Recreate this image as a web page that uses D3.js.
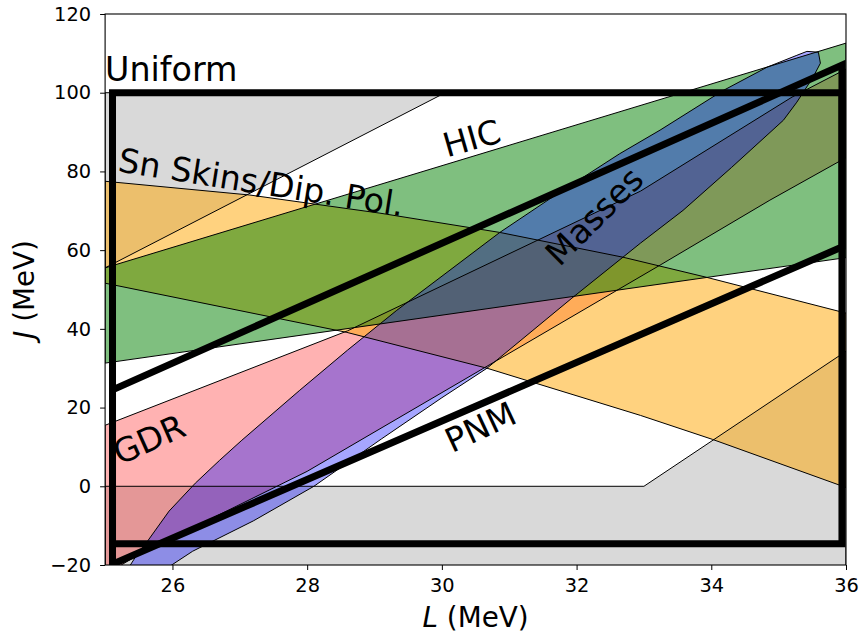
<!DOCTYPE html>
<html>
<head>
<meta charset="utf-8">
<script src="https://cdn.jsdelivr.net/npm/d3@7"></script>
<style>
  body { margin: 0; background: #fff; }
  svg { display: block; }
  text { font-family: "DejaVu Sans", sans-serif; }
</style>
</head>
<body>
<svg id="chart" width="859" height="634"></svg>
<script>
// ---- axis ticks ----
const xTicks = [26, 28, 30, 32, 34, 36];
const yTicks = [-20, 0, 20, 40, 60, 80, 100, 120];

// ---- constraint regions, [L, J] pairs ----
// Uniform-gas excluded regions
const uniformUpper = [[25, 55.5], [30.05, 100], [25, 100]];
const uniformLower = [[25, 0], [33, 0], [36, 34.3], [36, -25], [25, -25]];

// GDR band
const gdrUpper = [[25, 15.5], [28.6, 39.5], [32.95, 75], [35.2, 98.9], [36, 106]];
const gdrLower = [[25, -22.5], [25.5, -17.3], [28, 3.8], [30.67, 30.5], [33.24, 56.2], [34.87, 72.7], [36, 83.5]];

// Sn skins / dipole polarizability band
const snUpper = [[25, 77.5], [27.15, 74.0], [29.08, 69.4], [30.86, 64.5], [32.69, 58.2], [33.93, 53.1], [36, 44]];
const snLower = [[25, 51.6], [28.59, 39.1], [30.67, 30.0], [32.95, 18.0], [34.02, 11.9], [36, -0.3]];

// Heavy-ion collisions band
const hicUpper = [[25, 55.5], [36, 112.6]];
const hicLower = [[25, 31.3], [36, 58.1]];

// Nuclear masses contour
const masses = [
  [25.3, -22], [25.45, -18], [25.64, -13.7], [25.95, -6.3], [26.34, 0.8], [26.7, 6.6],
  [27.03, 11.7], [27.89, 24.4], [28.6, 34.6],
  [29.33, 44.7], [30.86, 64.5], [31.6, 73], [32.64, 84.5], [33.24, 90.5], [34.17, 100.5],
  [34.83, 106.5], [35.27, 109.5], [35.42, 110.5], [35.59, 110.3], [35.62, 107.5],
  [35.51, 103.9], [35.27, 97.6], [35.07, 93], [34.3, 81], [33.58, 70.1], [32.95, 61.8],
  [31.93, 47.8], [30.67, 30], [30.0, 22.5], [29.1, 12], [28.1, 0], [27.2, -8.8],
  [26.3, -16.5], [25.9, -21], [25.6, -22.5]
];

// Pure neutron matter bounds (parallelogram) and uniform-gas box
const pnmBounds = [[25.11, 24.5], [35.94, 107], [35.94, 60.8], [25.11, -19.8]];
const uniformBox = [[25.11, 100], [35.94, 100], [35.94, -14.6], [25.11, -14.6]];

// ---- labels ----
const labels = [
  { text: "Sn Skins/Dip. Pol.", at: [27.32, 77.3], angle: 9 },
  { text: "HIC", at: [30.44, 88.5], angle: -16 },
  { text: "Masses", at: [32.26, 68.7], angle: -45 },
  { text: "GDR", at: [25.65, 12.0], angle: -24 },
  { text: "PNM", at: [30.57, 15.1], angle: -25 }
];

// ---- layout ----
const plot = { left: 105.1, right: 846, top: 14, bottom: 565 };
const x = d3.scaleLinear().domain([25, 36]).range([plot.left, plot.right]);
const y = d3.scaleLinear().domain([-20, 120]).range([plot.bottom, plot.top]);

const svg = d3.select("#chart");
svg.append("defs").append("clipPath").attr("id", "plotClip")
  .append("rect")
  .attr("x", plot.left).attr("y", plot.top)
  .attr("width", plot.right - plot.left).attr("height", plot.bottom - plot.top);

const line = d3.line().x(d => x(d[0])).y(d => y(d[1]));
const band = (upper, lower) => upper.concat(lower.slice().reverse());

const regions = [
  { pts: uniformUpper, fill: "#808080", op: 0.3 },
  { pts: uniformLower, fill: "#808080", op: 0.3 },
  { pts: band(gdrUpper, gdrLower), fill: "#ff0000", op: 0.3 },
  { pts: band(snUpper, snLower), fill: "#ffa500", op: 0.5 },
  { pts: band(hicUpper, hicLower), fill: "#008000", op: 0.5 },
  { pts: masses, fill: "#0000ff", op: 0.35 }
];

const area = svg.append("g").attr("clip-path", "url(#plotClip)");

// fills
area.selectAll("path.fill").data(regions).join("path")
  .attr("class", "fill")
  .attr("d", d => line(d.pts) + "Z")
  .attr("fill", d => d.fill)
  .attr("fill-opacity", d => d.op)
  .attr("stroke", "none");

// outlines
area.selectAll("path.edge").data(regions).join("path")
  .attr("class", "edge")
  .attr("d", d => line(d.pts) + "Z")
  .attr("fill", "none")
  .attr("stroke", "#000")
  .attr("stroke-width", 1);

// thick bounds
[pnmBounds, uniformBox].forEach(pts => {
  area.append("path")
    .attr("d", line(pts) + "Z")
    .attr("fill", "none")
    .attr("stroke", "#000")
    .attr("stroke-width", 7)
    .attr("stroke-linejoin", "miter");
});

// ---- axes ----
const xAxis = d3.axisBottom(x).tickValues(xTicks).tickSize(5).tickPadding(8)
  .tickFormat(d3.format("d"));
const yAxis = d3.axisLeft(y).tickValues(yTicks).tickSize(5).tickPadding(9)
  .tickFormat(d3.format("d"));

const gx = svg.append("g").attr("transform", `translate(0,${plot.bottom})`).call(xAxis);
const gy = svg.append("g").attr("transform", `translate(${plot.left},0)`).call(yAxis);
[gx, gy].forEach(g => {
  g.select(".domain").remove();
  g.selectAll(".tick line").attr("stroke", "#000").attr("stroke-width", 1);
  g.selectAll(".tick text")
    .attr("font-family", "DejaVu Sans")
    .attr("font-size", 19.4)
    .attr("fill", "#000");
});

// frame
svg.append("rect")
  .attr("x", plot.left).attr("y", plot.top)
  .attr("width", plot.right - plot.left).attr("height", plot.bottom - plot.top)
  .attr("fill", "none").attr("stroke", "#000").attr("stroke-width", 1.1);

// axis titles
const xt = svg.append("text")
  .attr("x", (plot.left + plot.right) / 2).attr("y", 627)
  .attr("text-anchor", "middle").attr("font-size", 27.8);
xt.append("tspan").attr("font-style", "italic").text("L");
xt.append("tspan").text(" (MeV)");

const yt = svg.append("text")
  .attr("transform", `translate(34,${(plot.top + plot.bottom) / 2}) rotate(-90)`)
  .attr("text-anchor", "middle").attr("font-size", 27.8);
yt.append("tspan").attr("font-style", "italic").text("J");
yt.append("tspan").text(" (MeV)");

// region annotations
svg.append("text")
  .attr("x", x(25)).attr("y", y(103.1))
  .attr("font-size", 33.3)
  .text("Uniform");

labels.forEach(l => {
  const cx = x(l.at[0]), cy = y(l.at[1]);
  svg.append("text")
    .attr("transform", `translate(${cx},${cy}) rotate(${l.angle})`)
    .attr("text-anchor", "middle")
    .attr("dy", "0.36em")
    .attr("font-size", 33.3)
    .text(l.text);
});
</script>
</body>
</html>
